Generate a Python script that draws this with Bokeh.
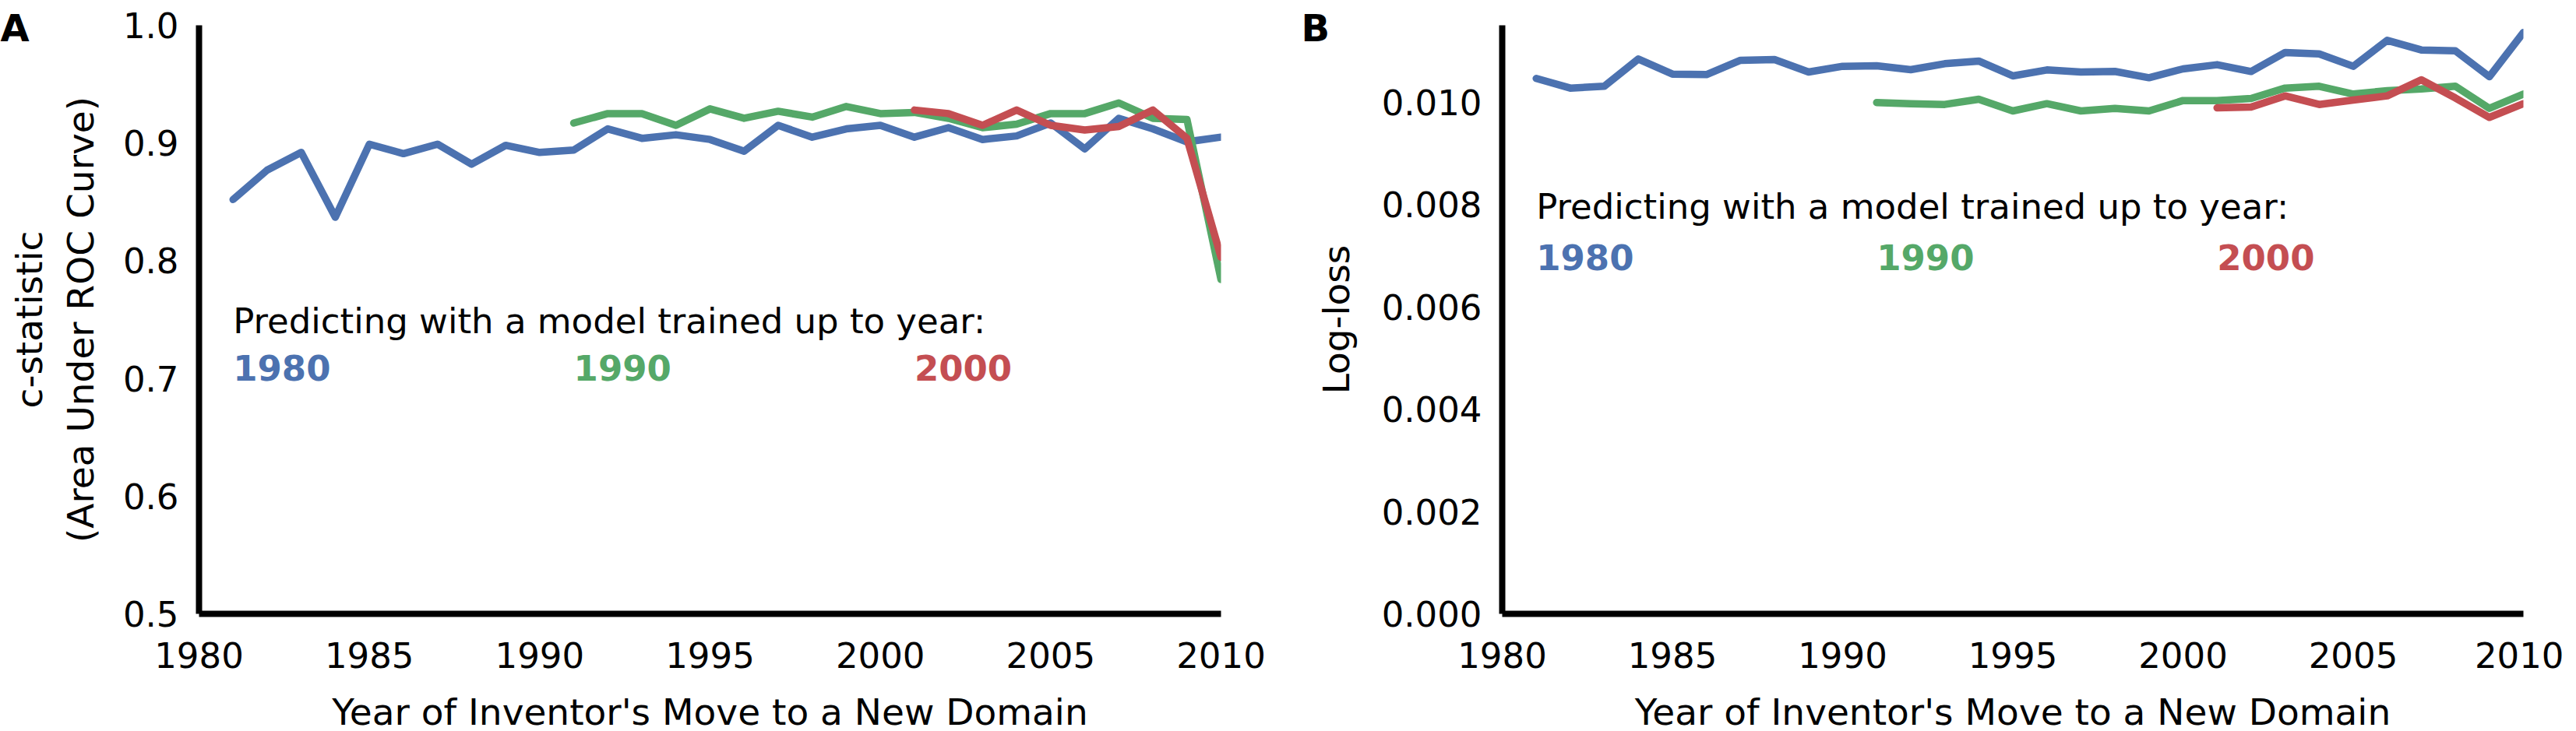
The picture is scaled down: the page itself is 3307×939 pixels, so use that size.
from bokeh.plotting import figure
from bokeh.models import Range1d, FixedTicker, Label, NumeralTickFormatter, Title
from bokeh.layouts import row
from bokeh.embed import file_html
from bokeh.resources import INLINE

# ---------------- data ----------------
years_1980 = list(range(1981, 2011))
years_1990 = list(range(1991, 2011))
years_2000 = list(range(2001, 2011))

auc_1980 = [0.852, 0.877, 0.892, 0.837, 0.899, 0.891, 0.899, 0.882, 0.898, 0.892,
            0.894, 0.912, 0.904, 0.907, 0.903, 0.893, 0.915, 0.905, 0.912, 0.915,
            0.905, 0.913, 0.903, 0.906, 0.917, 0.895, 0.921, 0.912, 0.901, 0.905]
auc_1990 = [0.917, 0.925, 0.925, 0.915, 0.929, 0.921, 0.927, 0.922, 0.931, 0.925,
            0.926, 0.921, 0.913, 0.916, 0.925, 0.925, 0.934, 0.921, 0.920, 0.784]
auc_2000 = [0.928, 0.925, 0.915, 0.928, 0.915, 0.911, 0.914, 0.928, 0.904, 0.803]

ll_1980 = [0.010461, 0.010273, 0.010309, 0.010841, 0.010547, 0.010537, 0.010816, 0.010831,
           0.010588, 0.010699, 0.010709, 0.010633, 0.010750, 0.010801, 0.010512, 0.010628,
           0.010588, 0.010598, 0.010476, 0.010648, 0.010730, 0.010598, 0.010968, 0.010942,
           0.010699, 0.011206, 0.011018, 0.011003, 0.010496, 0.011359]
ll_1990 = [0.009990, 0.009969, 0.009954, 0.010055, 0.009827, 0.009969, 0.009827, 0.009877,
           0.009827, 0.010030, 0.010030, 0.010070, 0.010273, 0.010309, 0.010157, 0.010222,
           0.010258, 0.010309, 0.009877, 0.010157]
ll_2000 = [0.009888, 0.009903, 0.010121, 0.009953, 0.010040, 0.010121, 0.010435, 0.010081,
           0.009701, 0.009969]

model_years = ["1980", "1990", "2000"]
model_label_x = [1981, 1991, 2001]
colors = ["#4C72B0", "#55A868", "#C44E52"]

x_ticks = [1980, 1985, 1990, 1995, 2000, 2005, 2010]
auc_ticks = [0.5, 0.6, 0.7, 0.8, 0.9, 1.0]
ll_ticks = [0.0, 0.002, 0.004, 0.006, 0.008, 0.010]

x_title = "Year of Inventor's Move to a New Domain"
auc_title = "c-statistic\n(Area Under ROC Curve)"
ll_title = "Log-loss"
legend_title = "Predicting with a model trained up to year:"
panel_letters = ["A", "B"]

FONT = "DejaVu Sans"
FS = "45px"
FS_AX = "47px"


def style(p, yticks, yfmt, ylab_standoff):
    p.xgrid.visible = False
    p.ygrid.visible = False
    p.outline_line_color = None
    p.background_fill_color = "white"
    p.border_fill_color = "white"
    p.xaxis.ticker = FixedTicker(ticks=x_ticks)
    p.yaxis.ticker = FixedTicker(ticks=yticks)
    p.yaxis.formatter = NumeralTickFormatter(format=yfmt)
    for ax in (p.xaxis[0], p.yaxis[0]):
        ax.axis_line_width = 8
        ax.axis_line_color = "black"
        ax.major_tick_line_color = None
        ax.minor_tick_line_color = None
        ax.major_tick_out = 0
        ax.major_tick_in = 0
        ax.minor_tick_out = 0
        ax.minor_tick_in = 0
        ax.major_label_text_font = FONT
        ax.major_label_text_font_size = FS
        ax.major_label_text_color = "black"
        ax.axis_label_text_font = FONT
        ax.axis_label_text_font_size = FS_AX
        ax.axis_label_text_font_style = "normal"
        ax.axis_label_text_color = "black"
    p.xaxis.major_label_standoff = 36
    p.yaxis.major_label_standoff = 26
    p.xaxis.axis_label_standoff = 26
    p.yaxis.axis_label_standoff = ylab_standoff


def add_lines(p, series):
    for (xs, ys), c in zip(series, colors):
        p.line(xs, ys, line_color=c, line_width=9.5, line_join="round", line_cap="round")


def add_texts(p, y_title, y_years):
    p.add_layout(Label(x=model_label_x[0], y=y_title, text=legend_title,
                       text_font=FONT, text_font_size=FS, text_color="black",
                       text_baseline="alphabetic", text_align="left"))
    for xx, t, c in zip(model_label_x, model_years, colors):
        p.add_layout(Label(x=xx, y=y_years, text=t, text_font=FONT, text_font_size=FS,
                           text_font_style="bold", text_color=c,
                           text_baseline="alphabetic", text_align="left"))


def add_letter(p, letter, offset):
    p.add_layout(Title(text=letter, align="left", offset=offset, standoff=-62,
                       vertical_align="bottom", text_font=FONT, text_font_size="48px",
                       text_font_style="bold", text_color="black"), "above")


# ---------------- panel A ----------------
pA = figure(frame_width=1312, frame_height=756,
            min_border_left=255, min_border_right=78, min_border_top=32, min_border_bottom=137,
            x_range=Range1d(1980, 2010), y_range=Range1d(0.5, 1.0),
            x_axis_label=x_title, y_axis_label=auc_title,
            output_backend="svg", toolbar_location=None)
style(pA, auc_ticks, "0.0", 24)
add_lines(pA, [(years_1980, auc_1980), (years_1990, auc_1990), (years_2000, auc_2000)])
add_texts(pA, 0.7487, 0.709)
add_letter(pA, panel_letters[0], -255)

# ---------------- panel B ----------------
pB = figure(frame_width=1311, frame_height=756,
            min_border_left=283, min_border_right=52, min_border_top=32, min_border_bottom=137,
            x_range=Range1d(1980, 2010), y_range=Range1d(0.0, 0.0115),
            x_axis_label=x_title, y_axis_label=ll_title,
            output_backend="svg", toolbar_location=None)
style(pB, ll_ticks, "0.000", 28)
add_lines(pB, [(years_1980, ll_1980), (years_1990, ll_1990), (years_2000, ll_2000)])
add_texts(pB, 0.007956, 0.006967)
add_letter(pB, panel_letters[1], -258)

layout = row(pA, pB)
open("out.html", "w").write(file_html(layout, INLINE))
